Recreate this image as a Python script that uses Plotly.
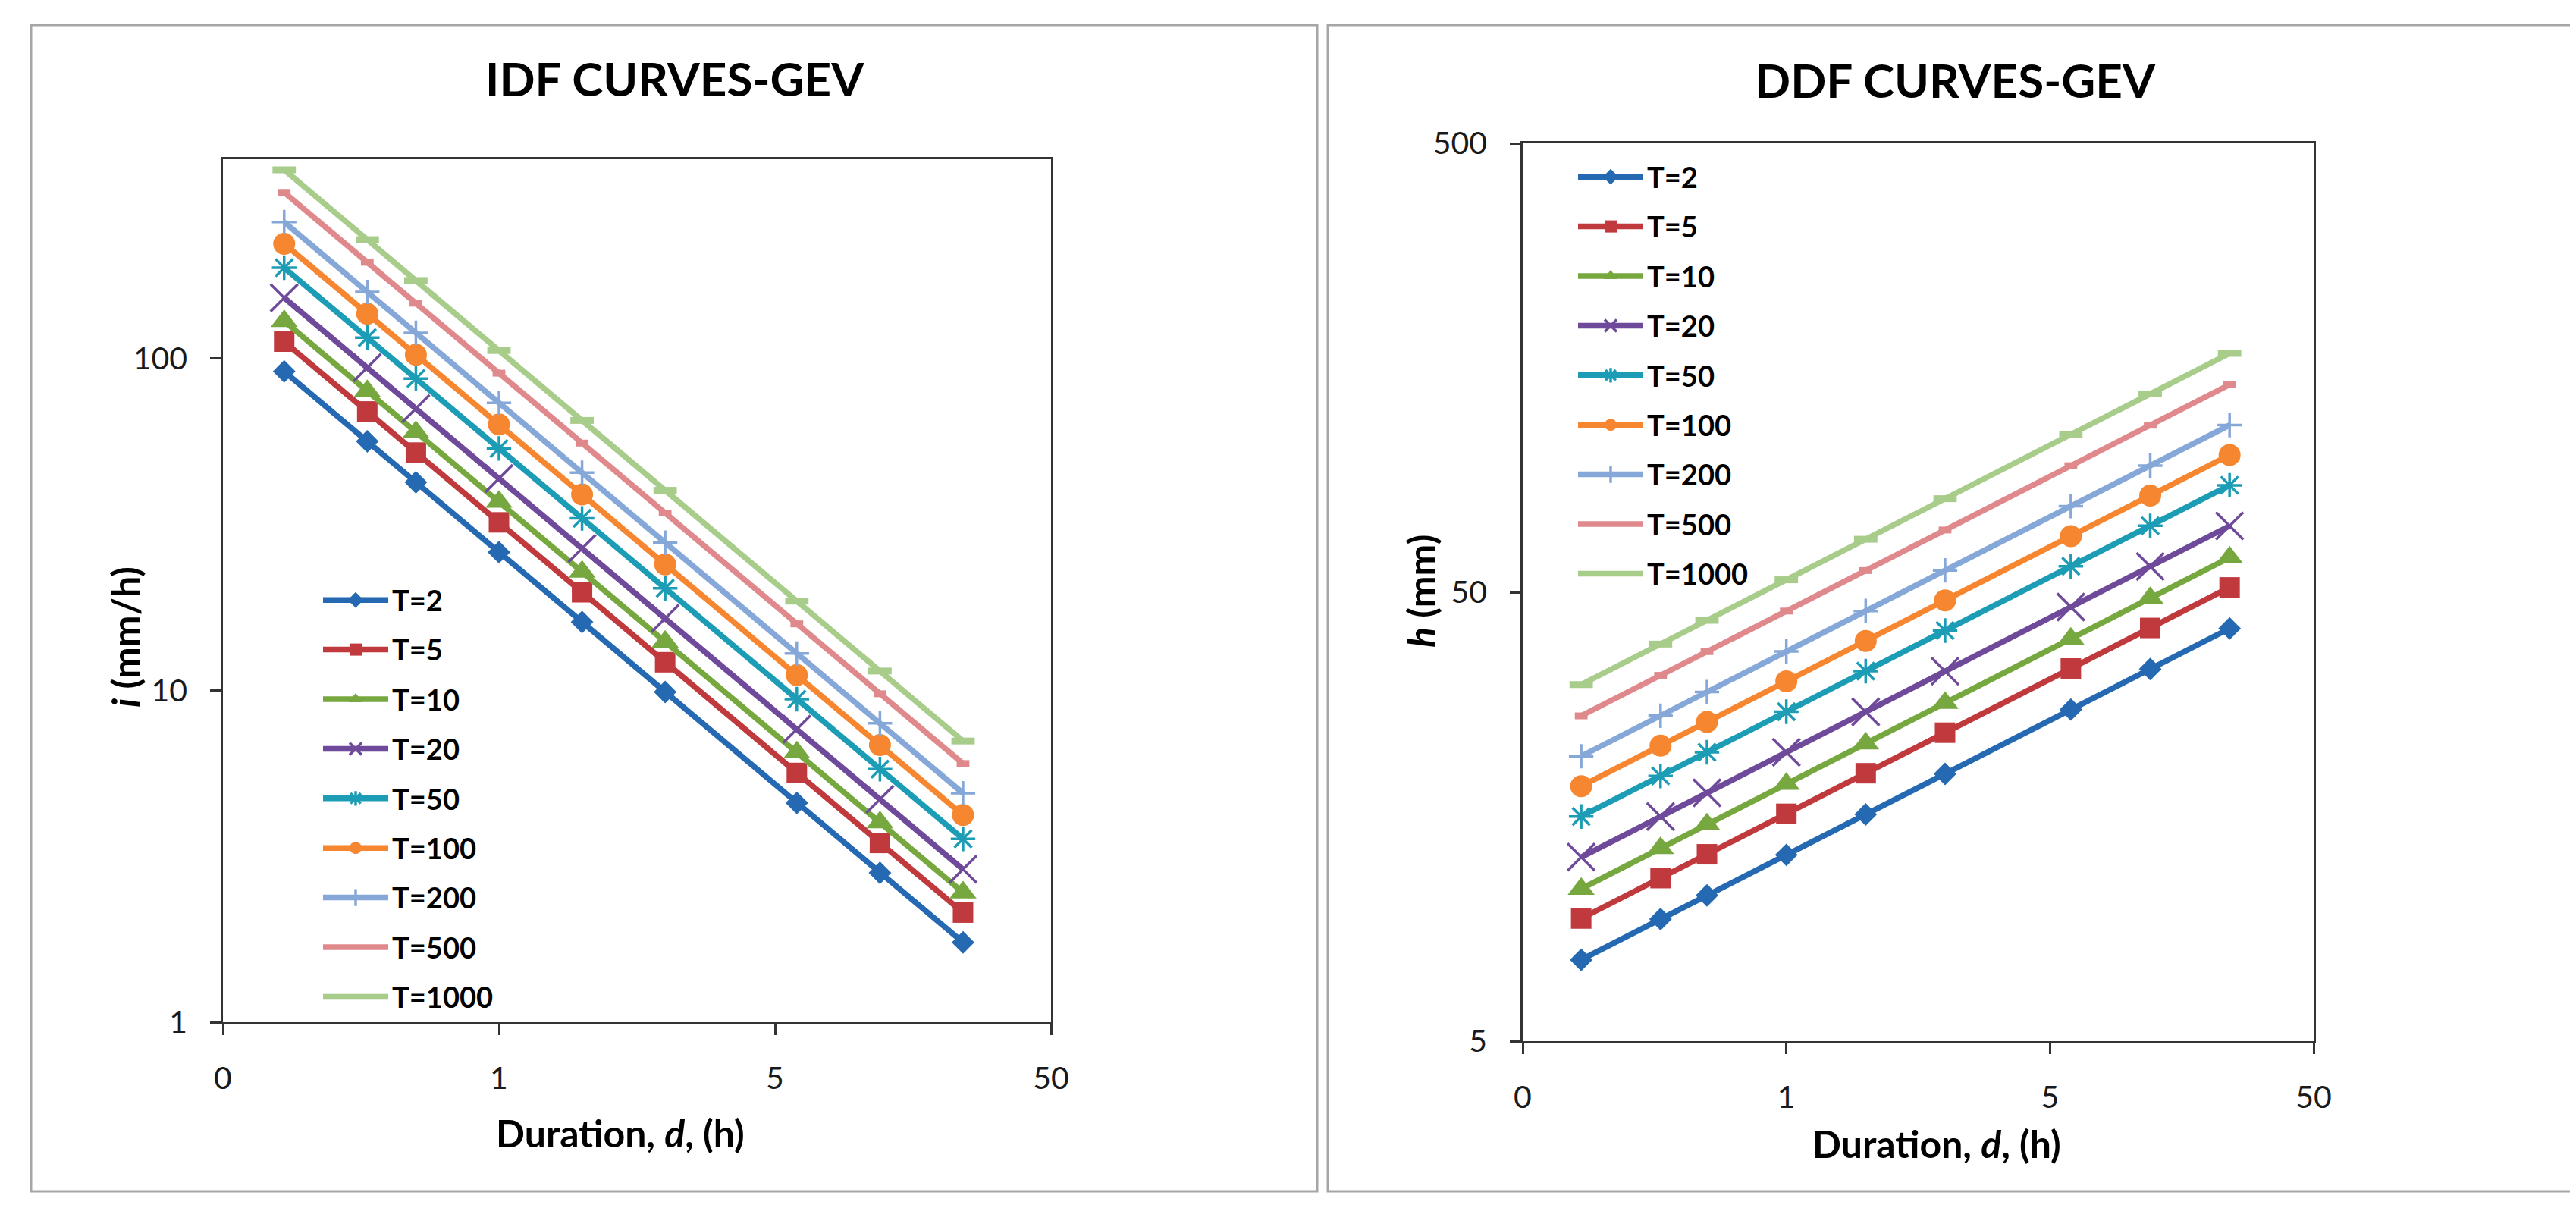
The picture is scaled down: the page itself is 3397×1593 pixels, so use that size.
import plotly.graph_objects as go

W, H = 3397, 1593

# ---------------- data ----------------
DURATION_H = [1/6, 1/3, 0.5, 1, 2, 4, 12, 24, 48]
SERIES = ["T=2", "T=5", "T=10", "T=20", "T=50", "T=100", "T=200", "T=500", "T=1000"]

# IDF: intensity i (mm/h)
IDF_T2    = [91.5, 56.3, 42.4, 26.1, 16.07, 9.89, 4.58, 2.82, 1.74]
IDF_T5    = [112.5, 69.3, 52.1, 32.1, 19.76, 12.16, 5.64, 3.47, 2.14]
IDF_T10   = [129.7, 79.8, 60.1, 37.0, 22.78, 14.02, 6.50, 4.00, 2.46]
IDF_T20   = [152.5, 93.9, 70.7, 43.5, 26.78, 16.48, 7.64, 4.70, 2.89]
IDF_T50   = [187.9, 115.7, 87.1, 53.6, 33.0, 20.31, 9.41, 5.79, 3.57]
IDF_T100  = [221.9, 136.6, 102.8, 63.3, 38.97, 23.98, 11.12, 6.84, 4.21]
IDF_T200  = [258.0, 158.8, 119.6, 73.6, 45.31, 27.89, 12.92, 7.96, 4.90]
IDF_T500  = [316.9, 195.1, 146.9, 90.4, 55.65, 34.25, 15.87, 9.77, 6.02]
IDF_T1000 = [370.8, 228.3, 171.9, 105.8, 65.13, 40.09, 18.58, 11.44, 7.04]

# DDF: depth h (mm)
DDF_T2    = [7.59, 9.35, 10.56, 13.0, 16.0, 19.70, 27.40, 33.73, 41.52]
DDF_T5    = [9.38, 11.54, 13.04, 16.05, 19.76, 24.33, 33.82, 41.64, 51.26]
DDF_T10   = [10.92, 13.45, 15.19, 18.7, 23.02, 28.34, 39.41, 48.52, 59.73]
DDF_T20   = [12.85, 15.82, 17.87, 22.0, 27.08, 33.35, 46.36, 57.08, 70.27]
DDF_T50   = [15.83, 19.49, 22.01, 27.1, 33.36, 41.08, 57.11, 70.31, 86.56]
DDF_T100  = [18.49, 22.76, 25.71, 31.65, 38.96, 47.97, 66.70, 82.11, 101.09]
DDF_T200  = [21.56, 26.54, 29.97, 36.9, 45.43, 55.93, 77.76, 95.73, 117.86]
DDF_T500  = [26.52, 32.65, 36.88, 45.4, 55.89, 68.81, 95.68, 117.79, 145.01]
DDF_T1000 = [31.14, 38.33, 43.30, 53.3, 65.62, 80.79, 112.32, 138.28, 170.24]

X_TICKVALS = [0.1, 1, 10, 100]
X_TICKTEXT = ["0", "1", "5", "50"]
IDF_Y_TICKS = [1, 10, 100]
DDF_Y_TICKS = [5, 50, 500]

IDF = [IDF_T2, IDF_T5, IDF_T10, IDF_T20, IDF_T50, IDF_T100, IDF_T200, IDF_T500, IDF_T1000]
DDF = [DDF_T2, DDF_T5, DDF_T10, DDF_T20, DDF_T50, DDF_T100, DDF_T200, DDF_T500, DDF_T1000]

# ---------------- styles ----------------
COLORS = ["#2469B1", "#C0393D", "#77A83F", "#6F4A9B", "#1C9DB5",
          "#F68630", "#86A8D8", "#E0898C", "#A8CC8A"]
MARKERS = [
    dict(symbol="diamond", size=23, line=dict(width=0)),
    dict(symbol="square", size=27, line=dict(width=0)),
    dict(symbol="triangle-up", size=31, line=dict(width=0)),
    dict(symbol="x-thin-open", size=36, line=dict(width=3.5)),
    dict(symbol="asterisk-open", size=27, line=dict(width=3.5)),
    dict(symbol="circle", size=29, line=dict(width=0)),
    dict(symbol="cross-thin-open", size=23, line=dict(width=3.5)),
    dict(symbol="line-ew-open", size=12, line=dict(width=9)),
    dict(symbol="line-ew-open", size=22, line=dict(width=9)),
]
LINE_W = 7.5
FONT = "Lato, 'Open Sans', 'DejaVu Sans', sans-serif"


def px(x):
    return x / W


def py(y):
    return 1 - y / H


fig = go.Figure()

for k, name in enumerate(SERIES):
    for panel, data in (("L", IDF), ("R", DDF)):
        m = dict(MARKERS[k])
        m["color"] = COLORS[k]
        m["line"] = dict(m["line"], color=COLORS[k])
        fig.add_trace(go.Scatter(
            x=DURATION_H, y=data[k], name=name,
            mode="lines+markers",
            line=dict(color=COLORS[k], width=LINE_W),
            marker=m,
            xaxis="x" if panel == "L" else "x2",
            yaxis="y" if panel == "L" else "y2",
            legend="legend" if panel == "L" else "legend2",
            legendgroup=panel + name,
        ))

axis_common = dict(
    showgrid=False, zeroline=False, showline=True, mirror=True,
    linecolor="#333333", linewidth=2.5, automargin=False,
    ticks="outside", ticklen=14, tickwidth=2.5, tickcolor="#333333",
    tickfont=dict(family=FONT, size=41, color="#1a1a1a"),
    ticklabelstandoff=22,
)

legend_common = dict(
    font=dict(family=FONT, size=38, color="#000000", weight="bold"),
    bgcolor="rgba(0,0,0,0)", borderwidth=0,
    tracegroupgap=13, itemwidth=86, itemsizing="trace",
    xanchor="left", yanchor="top",
)

fig.update_layout(
    width=W, height=H, autosize=False,
    margin=dict(l=0, r=0, t=0, b=0, pad=0, autoexpand=False),
    paper_bgcolor="white", plot_bgcolor="white",
    showlegend=True,
    xaxis=dict(axis_common, type="log", range=[-1, 2],
               tickvals=X_TICKVALS, ticktext=X_TICKTEXT,
               domain=[px(286), px(1378)], anchor="y"),
    yaxis=dict(axis_common, type="log", range=[0, 2.602],
               tickvals=IDF_Y_TICKS, ticktext=[str(v) for v in IDF_Y_TICKS],
               domain=[py(1340), py(201.5)], anchor="x"),
    xaxis2=dict(axis_common, type="log", range=[-1, 2],
                tickvals=X_TICKVALS, ticktext=X_TICKTEXT,
                domain=[px(2000), px(3043)], anchor="y2"),
    yaxis2=dict(axis_common, type="log", range=[0.69897, 2.69897],
                tickvals=DDF_Y_TICKS, ticktext=[str(v) for v in DDF_Y_TICKS],
                domain=[py(1365), py(181)], anchor="x2"),
    legend=dict(legend_common, x=px(413), y=py(752)),
    legend2=dict(legend_common, x=px(2068), y=py(194)),
)

# panel frames
for x0, x1 in ((33, 1729), (1743, 3394)):
    fig.add_shape(type="rect", xref="paper", yref="paper",
                  x0=px(x0), x1=px(x1), y0=py(1563), y1=py(25),
                  line=dict(color="#A6A6A6", width=3), fillcolor="rgba(0,0,0,0)",
                  layer="below")

# titles and axis titles
ann_font = dict(family=FONT, color="#000000", weight="bold")
texts = [
    ("IDF CURVES-GEV", 882, 95, 0, 62),
    ("DDF CURVES-GEV", 2570, 97, 0, 62),
    ("Duration, <i>d</i>, (h)", 810, 1486, 0, 50),
    ("Duration, <i>d</i>, (h)", 2546, 1500, 0, 50),
    ("<i>i</i> (mm/h)", 157, 832, -90, 50),
    ("<i>h</i> (mm)", 1866, 772, -90, 50),
]
for t, x, y, ang, size in texts:
    fig.add_annotation(text=t, xref="paper", yref="paper", x=px(x), y=py(y),
                       xanchor="center", yanchor="middle", showarrow=False,
                       textangle=ang, font=dict(ann_font, size=size))

fig.write_html("out.html")
